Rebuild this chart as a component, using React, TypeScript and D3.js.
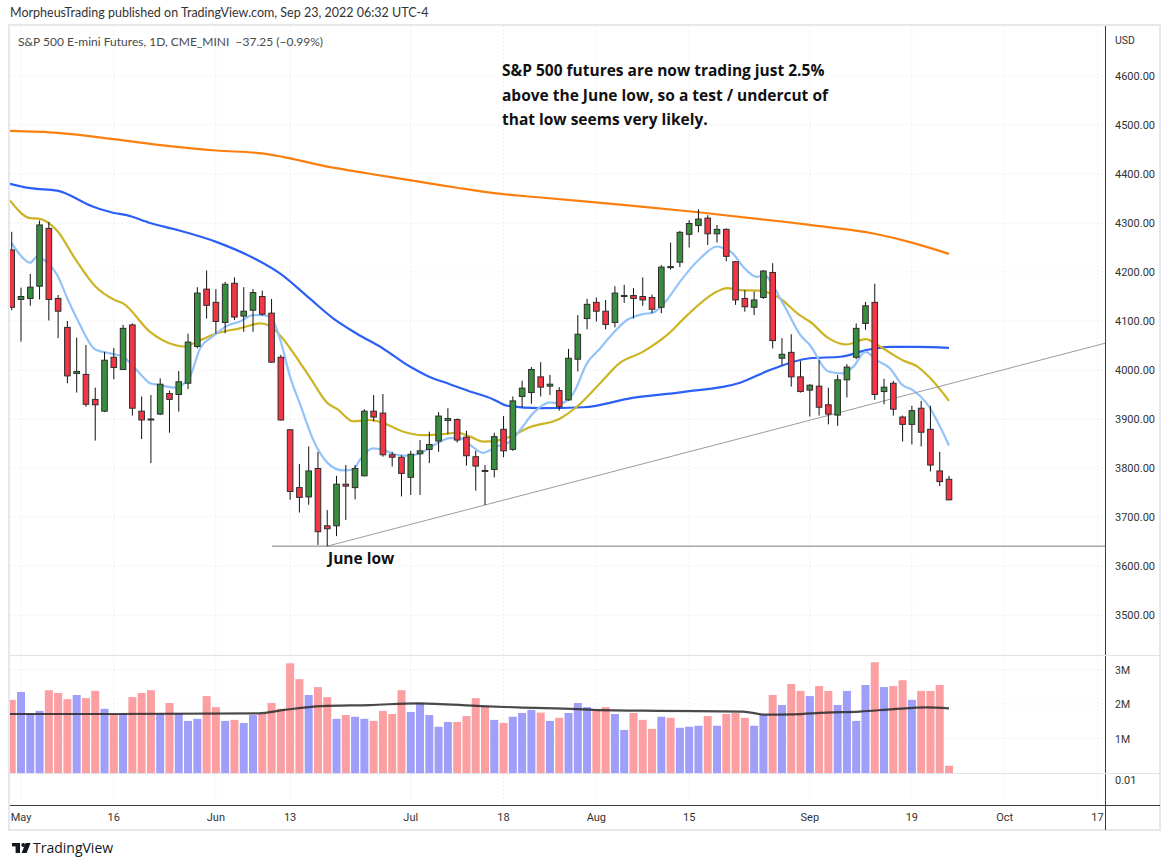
import React from "react";
import * as d3 from "d3";

// Trading-day index: 0 = May 2, 2022 ... 100 = Sep 23, 2022 (first bar, index -1, is Apr 29)
const FIRST_INDEX = -1;

const opens = [4245, 4144, 4146, 4171, 4289, 4146, 4087, 3993, 3991, 3940, 3916, 4026, 4001, 4092, 3916, 3900, 3910, 3952, 3950, 3973, 4048, 4165, 4138, 4097, 4177, 4110, 4122, 4150, 4116, 4026, 3878, 3760, 3741, 3799, 3682, 3682, 3767, 3760, 3784, 3916, 3912, 3827, 3822, 3781, 3829, 3838, 3855, 3897, 3899, 3863, 3823, 3795, 3797, 3879, 3838, 3946, 3954, 3986, 3967, 3958, 3939, 4022, 4105, 4138, 4120, 4097, 4150, 4152, 4150, 4148, 4128, 4211, 4220, 4277, 4295, 4310, 4278, 4287, 4221, 4146, 4128, 4148, 4199, 4024, 4036, 3986, 3959, 3967, 3929, 3908, 3980, 4026, 4095, 4138, 3956, 3973, 3904, 3889, 3922, 3879, 3794, 3777];
const highs = [4282, 4168, 4196, 4305, 4302, 4153, 4100, 4066, 4051, 3964, 4037, 4045, 4092, 4095, 3946, 3949, 3983, 3958, 3998, 4074, 4169, 4203, 4165, 4180, 4189, 4169, 4165, 4162, 4145, 4031, 3879, 3808, 3844, 3833, 3714, 3784, 3806, 3806, 3920, 3949, 3951, 3833, 3826, 3835, 3857, 3874, 3914, 3922, 3901, 3876, 3835, 3806, 3872, 3906, 3946, 3978, 4006, 4016, 3990, 3965, 4043, 4112, 4145, 4148, 4143, 4171, 4174, 4167, 4189, 4154, 4214, 4260, 4284, 4306, 4328, 4316, 4296, 4289, 4222, 4163, 4160, 4204, 4218, 4065, 4073, 4018, 3971, 4020, 3964, 3990, 4012, 4095, 4139, 4176, 3982, 3978, 3907, 3927, 3937, 3927, 3833, 3784];
const lows = [4122, 4058, 4131, 4144, 4101, 4065, 3973, 3954, 3925, 3856, 3914, 3981, 4000, 3907, 3859, 3810, 3908, 3872, 3915, 3961, 4044, 4105, 4074, 4075, 4102, 4078, 4078, 4111, 4015, 3897, 3735, 3709, 3725, 3643, 3640.5, 3661, 3694, 3736, 3783, 3895, 3823, 3803, 3742, 3745, 3745, 3810, 3833, 3869, 3852, 3805, 3754, 3724.5, 3781, 3822, 3835, 3924, 3931, 3946, 3949, 3917, 3937, 3997, 4083, 4099, 4083, 4087, 4137, 4105, 4131, 4116, 4116, 4205, 4210, 4250, 4281, 4255, 4260, 4222, 4133, 4119, 4112, 4145, 4044, 4010, 3966, 3954, 3905, 3907, 3889, 3886, 3944, 4022, 4082, 3939, 3930, 3907, 3854, 3848, 3844, 3793, 3763, 3734];
const closes = [4128, 4150, 4169, 4296, 4144, 4120, 3988, 3997, 3930, 3929, 4020, 4005, 4085, 3922, 3898, 3899, 3971, 3940, 3976, 4057, 4157, 4132, 4099, 4175, 4108, 4120, 4158, 4114, 4016, 3898, 3752, 3740, 3794, 3670, 3676, 3767, 3763, 3799, 3916, 3904, 3827, 3822, 3789, 3828, 3835, 3848, 3906, 3901, 3857, 3825, 3804, 3794, 3864, 3835, 3937, 3963, 4001, 3965, 3971, 3925, 4024, 4073, 4134, 4120, 4093, 4157, 4152, 4146, 4143, 4124, 4210, 4209, 4281, 4299, 4308, 4278, 4287, 4232, 4143, 4129, 4143, 4202, 4060, 4032, 3986, 3956, 3969, 3924, 3910, 3980, 4006, 4085, 4131, 3950, 3965, 3920, 3889, 3917, 3873, 3806, 3772.25, 3735];
// Daily volume, millions of contracts
const volumes = [2.12, 2.35, 1.73, 1.8, 2.4, 2.32, 2.14, 2.26, 2.17, 2.38, 1.86, 1.71, 1.71, 2.2, 2.32, 2.4, 1.73, 2.03, 1.73, 1.51, 1.57, 2.23, 1.91, 1.51, 1.54, 1.45, 1.68, 1.71, 2.03, 1.86, 3.18, 2.72, 2.26, 2.49, 2.2, 1.57, 1.68, 1.63, 1.57, 1.51, 1.8, 1.71, 2.4, 1.77, 2.03, 1.68, 1.34, 1.48, 1.48, 1.65, 2.17, 1.94, 1.54, 1.45, 1.63, 1.74, 1.83, 1.75, 1.51, 1.6, 1.74, 2.03, 1.91, 1.83, 1.91, 1.71, 1.25, 1.74, 1.54, 1.28, 1.63, 1.6, 1.31, 1.34, 1.37, 1.65, 1.37, 1.71, 1.74, 1.6, 1.37, 1.68, 2.26, 1.97, 2.58, 2.38, 2.23, 2.52, 2.38, 1.97, 2.38, 1.51, 2.55, 3.21, 2.49, 2.52, 2.69, 2.12, 2.38, 2.38, 2.55, 0.21];

// Moving averages as [bar index, value]
const ma200: [number, number][] = [[-1.2, 4488], [4, 4484], [10, 4471], [16, 4457], [21, 4448], [26, 4442], [29, 4432], [33, 4415], [36.5, 4404], [40, 4393], [44, 4381], [47, 4372], [51, 4361], [56, 4352], [66, 4335], [73, 4322], [82, 4303], [85, 4296], [92, 4278], [96, 4260], [100, 4237]];
const ma50: [number, number][] = [[-1.2, 4380], [1, 4371], [3.9, 4366], [7.8, 4333], [9.9, 4321], [11.4, 4316], [13.9, 4300], [16.8, 4286], [21.1, 4261], [25, 4229], [27.9, 4197], [31.1, 4146], [33.6, 4106], [36.2, 4074], [39, 4044], [41.9, 4007], [43.8, 3988], [46.2, 3971], [48.1, 3958], [50.9, 3940], [52.4, 3927], [55.9, 3922], [60.6, 3924], [65.9, 3943], [71.3, 3955], [77.5, 3974], [80.7, 4000], [85, 4024], [88.3, 4027], [91.2, 4041], [93.6, 4047], [96.6, 4047], [100, 4045]];
const ma20: [number, number][] = [[-1.2, 4346], [1, 4310], [1.9, 4309], [3.9, 4284], [5.8, 4228], [8, 4171], [10.1, 4143], [11, 4136], [13.9, 4078], [16.4, 4052], [17.5, 4048], [19.3, 4061], [21.1, 4075], [23.6, 4085], [25.8, 4095], [26.8, 4090], [27.9, 4071], [30.1, 4014], [31.1, 3986], [33, 3933], [34.1, 3920], [35.8, 3895], [37.6, 3898], [39, 3892], [41.2, 3874], [43.3, 3867], [45.5, 3869], [47, 3872], [48.4, 3864], [49.8, 3854], [51.3, 3856], [52.7, 3864], [54.8, 3883], [58.1, 3901], [59.9, 3925], [62.4, 3973], [64.5, 4014], [67, 4037], [69.6, 4071], [71.8, 4112], [73.2, 4136], [75, 4160], [76.1, 4167], [77.5, 4163], [79.6, 4162], [81.8, 4146], [83.9, 4112], [85, 4099], [87, 4065], [89, 4052], [91, 4063], [92.9, 4044], [95, 4020], [96.6, 4007], [98, 3983], [100, 3937]];
const ma10: [number, number][] = [[-1, 4259], [-0.1, 4235], [1, 4219], [1.7, 4231], [2.9, 4218], [3.9, 4194], [5, 4146], [6.1, 4102], [8, 4042], [9.6, 4034], [11, 4027], [12.8, 3993], [13.9, 3973], [15, 3969], [16.4, 3964], [17.3, 3969], [18.2, 3986], [19.3, 4044], [20.7, 4069], [22.2, 4090], [23.6, 4099], [25, 4112], [26.1, 4112], [27, 4106], [27.9, 4064], [29, 3986], [30.1, 3929], [31.5, 3857], [33, 3811], [34.7, 3795], [35.8, 3797], [36.5, 3816], [37.9, 3840], [39, 3837], [40.5, 3827], [41.9, 3825], [43.3, 3833], [44.8, 3850], [46.2, 3861], [47.3, 3861], [48.4, 3847], [49.8, 3831], [51.3, 3844], [52.7, 3854], [53.8, 3878], [55.2, 3912], [57, 3934], [58.1, 3932], [59.5, 3952], [61, 4014], [62.4, 4044], [63.8, 4075], [65.3, 4102], [67, 4114], [68.1, 4117], [69.6, 4143], [71, 4180], [73.2, 4228], [75, 4252], [75.5, 4250], [76.7, 4238], [77.8, 4211], [79.3, 4190], [80, 4194], [82.1, 4136], [84, 4071], [85, 4051], [87, 3997], [88.6, 3993], [89.7, 4007], [91, 4037], [92.2, 4020], [93.6, 4004], [95, 3969], [96.1, 3959], [97.6, 3932], [100, 3846]];
const volMa: [number, number][] = [[-1.2, 1.71], [10, 1.71], [25.6, 1.73], [28.4, 1.83], [32.4, 1.94], [37.6, 1.97], [42.8, 2.02], [49.6, 1.94], [53.5, 1.9], [59.9, 1.85], [61.7, 1.83], [68.9, 1.8], [77.8, 1.78], [80.3, 1.69], [83.2, 1.7], [86.8, 1.75], [90.4, 1.78], [94, 1.85], [97.6, 1.9], [100, 1.875]];

const juneLow = 3640.5;
// Support line anchored on the Jun 17 low and the Jul 14 low
const trendAnchors: [number, number][] = [[33, 3640.5], [50, 3724.5]];

const priceTicks = [4600, 4500, 4400, 4300, 4200, 4100, 4000, 3900, 3800, 3700, 3600, 3500];
const volTicks = [3, 2, 1];
const volTickLabels = ["3M", "2M", "1M"];
const timeTickIdx = [0, 10, 21, 29, 42, 52, 62, 72, 85, 96, 106, 116];
const timeTickLabels = ["May", "16", "Jun", "13", "Jul", "18", "Aug", "15", "Sep", "19", "Oct", "17"];

const noteLines = [
  "S&P 500 futures are now trading just 2.5%",
  "above the June low, so a test / undercut of",
  "that low seems very likely.",
];

// Layout
const PLOT_L = 10;
const PLOT_R = 1105;
const PRICE_T = 26;
const PRICE_B = 655;
const VOL_B = 773;
const AXIS_Y = 805;
const FRAME_B = 830;

const UI_FONT = "Roboto, 'Liberation Sans', sans-serif";

export default function App() {
  const x = d3.scaleLinear().domain([0, 100]).range([21, 949]);
  const y = d3.scaleLinear().domain([3500, 4600]).range([615, 76]);
  const yv = d3.scaleLinear().domain([0, 3]).range([VOL_B, 669.5]);

  const bars = opens.map((o, k) => ({
    i: k + FIRST_INDEX,
    o,
    h: highs[k],
    l: lows[k],
    c: closes[k],
    v: volumes[k],
  }));

  const line = d3
    .line<[number, number]>()
    .x((d) => x(d[0]))
    .y((d) => y(d[1]))
    .curve(d3.curveMonotoneX);
  const volLine = d3
    .line<[number, number]>()
    .x((d) => x(d[0]))
    .y((d) => yv(d[1]))
    .curve(d3.curveMonotoneX);

  const [[ti0, tp0], [ti1, tp1]] = trendAnchors;
  const slope = (tp1 - tp0) / (ti1 - ti0);
  const iEnd = x.invert(PLOT_R);
  const trendEnd = tp0 + slope * (iEnd - ti0);

  const bodyW = 5.6;
  const volW = 8;
  const green = "#3a8d3e";
  const red = "#f23645";
  const volUp = "#9f9ff9";
  const volDown = "#fc9fa2";

  const grid = "#dfe1e6";

  return (
    <svg
      width={1168}
      height={866}
      style={{ position: "absolute", left: 0, top: 0, background: "#fff" }}
      fontFamily={UI_FONT}
    >
      <defs>
        <clipPath id="pricePane">
          <rect x={PLOT_L} y={PRICE_T} width={PLOT_R - PLOT_L} height={PRICE_B - PRICE_T} />
        </clipPath>
        <clipPath id="volPane">
          <rect x={PLOT_L} y={PRICE_B} width={PLOT_R - PLOT_L} height={VOL_B - PRICE_B} />
        </clipPath>
        <filter id="soft" x="-5%" y="-50%" width="110%" height="200%">
          <feGaussianBlur stdDeviation="0.6" />
        </filter>
      </defs>

      <rect width={1168} height={866} fill="#fff" />

      {/* publisher line */}
      <text x={10} y={17} fontSize={12.5} fill="#333" fontFamily="Lato, sans-serif">
        MorpheusTrading published on TradingView.com, Sep 23, 2022 06:32 UTC-4
      </text>

      {/* chart frame */}
      <rect x={9} y={25} width={1151} height={FRAME_B - 25} fill="none" stroke="#e6e8ee" strokeWidth={2} />

      {/* vertical grid */}
      {timeTickIdx.map((t) => (
        <line key={"vg" + t} x1={x(t)} x2={x(t)} y1={PRICE_T} y2={AXIS_Y} stroke={grid} strokeDasharray="1 3" />
      ))}
      {/* horizontal price grid */}
      {priceTicks.map((p) => (
        <line key={"hg" + p} x1={PLOT_L} x2={PLOT_R} y1={y(p)} y2={y(p)} stroke={grid} strokeDasharray="1 3" />
      ))}

      {/* legend */}
      <text x={18} y={46} fontSize={12} fill="#4a4a4a" fontFamily="Lato, sans-serif">
        S&amp;P 500 E-mini Futures, 1D, CME_MINI{"\u00a0\u00a0"}−37.25 (−0.99%)
      </text>

      <g clipPath="url(#pricePane)">
        {/* moving averages */}
        <path d={line(ma200) ?? ""} fill="none" stroke="#fb7f0f" strokeWidth={2.2} />
        <path d={line(ma50) ?? ""} fill="none" stroke="#2c5ff6" strokeWidth={2.2} />
        <path d={line(ma20) ?? ""} fill="none" stroke="#cdb425" strokeWidth={2.2} />
        <path d={line(ma10) ?? ""} fill="none" stroke="#93c3f8" strokeWidth={2.2} />

        {/* support trendline and June low */}
        <line x1={x(ti0)} y1={y(tp0)} x2={PLOT_R} y2={y(trendEnd)} stroke="#9a9ca3" strokeWidth={1} />
        <line x1={272} y1={y(juneLow)} x2={PLOT_R} y2={y(juneLow)} stroke="#7d7f86" strokeWidth={1} />

        {/* candles */}
        {bars.map((b) => {
          const cx = x(b.i);
          const up = b.c >= b.o;
          const top = y(Math.max(b.o, b.c));
          const bot = y(Math.min(b.o, b.c));
          const hgt = Math.max(bot - top, 1);
          return (
            <g key={"c" + b.i}>
              <line x1={cx} x2={cx} y1={y(b.h)} y2={y(b.l)} stroke="#111" strokeWidth={1} />
              <rect
                x={cx - bodyW / 2}
                y={top}
                width={bodyW}
                height={hgt}
                fill={up ? green : red}
                stroke="#2e2e2e"
                strokeWidth={1}
              />
            </g>
          );
        })}
      </g>

      {/* annotations */}
      <g fontFamily="'Open Sans', sans-serif" fontWeight={700} fontSize={15.5} fill="#111">
        {noteLines.map((s, k) => (
          <text key={"n" + k} x={502} y={76 + k * 24.5}>
            {s}
          </text>
        ))}
        <text x={328} y={564}>June low</text>
      </g>

      {/* volume pane */}
      <line x1={PLOT_L} x2={PLOT_R} y1={PRICE_B + 0.5} y2={PRICE_B + 0.5} stroke="#e0e3eb" />
      {volTicks.map((v) => (
        <line key={"vgl" + v} x1={PLOT_L} x2={PLOT_R} y1={yv(v)} y2={yv(v)} stroke={grid} strokeDasharray="1 3" />
      ))}
      <g clipPath="url(#volPane)">
        {bars.map((b) => (
          <rect
            key={"v" + b.i}
            x={x(b.i) - volW / 2}
            y={yv(b.v)}
            width={volW}
            height={VOL_B - yv(b.v)}
            fill={b.c >= b.o ? volUp : volDown}
          />
        ))}
        <path d={volLine(volMa) ?? ""} fill="none" stroke="#2a2a2a" strokeOpacity={0.85} strokeWidth={2.2} filter="url(#soft)" />
      </g>
      <line x1={PLOT_L} x2={PLOT_R} y1={VOL_B + 0.5} y2={VOL_B + 0.5} stroke="#e0e3eb" />

      {/* time axis */}
      <line x1={PLOT_L} x2={1160} y1={AXIS_Y + 0.5} y2={AXIS_Y + 0.5} stroke="#3a3d45" />
      {timeTickIdx.map((t, k) => (
        <text key={"tl" + k} x={x(t)} y={821} fontSize={11} fill="#333" textAnchor="middle">
          {timeTickLabels[k]}
        </text>
      ))}

      {/* price scale */}
      <line x1={PLOT_R + 0.5} x2={PLOT_R + 0.5} y1={PRICE_T} y2={FRAME_B} stroke="#3a3d45" />
      <text x={1115} y={44} fontSize={10.5} fill="#333">USD</text>
      {priceTicks.map((p) => (
        <text key={"pl" + p} x={1115} y={y(p) + 4} fontSize={11} fill="#333">
          {d3.format(".2f")(p)}
        </text>
      ))}
      {volTicks.map((v, k) => (
        <text key={"vl" + v} x={1115} y={yv(v) + 4} fontSize={10.5} fill="#333">
          {volTickLabels[k]}
        </text>
      ))}
      <text x={1115} y={784} fontSize={11} fill="#333">0.01</text>
      <line x1={PLOT_R} x2={1160} y1={PRICE_B + 0.5} y2={PRICE_B + 0.5} stroke="#e0e3eb" />
      <line x1={PLOT_R} x2={1160} y1={VOL_B + 0.5} y2={VOL_B + 0.5} stroke="#e0e3eb" />

      {/* TradingView mark */}
      <g fill="#131722">
        <rect x={12} y={843} width={8} height={3.4} />
        <rect x={15.6} y={843} width={4.4} height={10} />
        <circle cx={23.2} cy={845} r={1.9} />
        <polygon points="25.6,843 30.6,843 26.6,853 21.6,853" />
      </g>
      <text x={33} y={853} fontSize={14} fill="#131722" fontFamily="'Open Sans', sans-serif">
        TradingView
      </text>
    </svg>
  );
}
